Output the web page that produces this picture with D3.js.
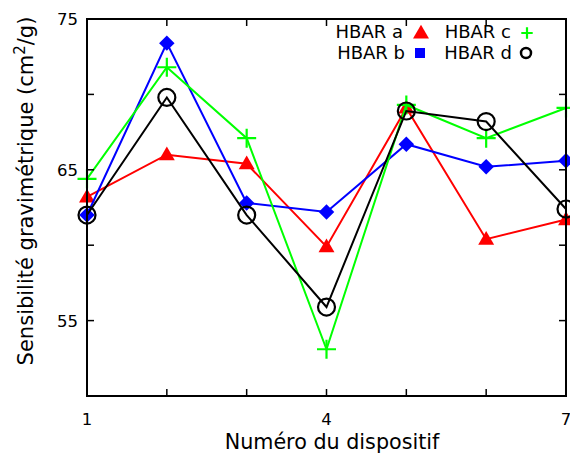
<!DOCTYPE html>
<html><head><meta charset="utf-8">
<script src="https://cdn.jsdelivr.net/npm/d3@7"></script>
<style>body{margin:0;background:#fff}svg{display:block;font-family:"DejaVu Sans",sans-serif}</style>
</head><body>
<svg id="c" width="570" height="453"></svg>
<script>
const devices = [1,2,3,4,5,6,7];
const hbarA = [63.2,66.0,65.4,59.9,69.1,60.4,61.7];
const hbarB = [62.0,73.4,62.8,62.2,66.7,65.2,65.6];
const hbarC = [64.4,71.8,67.1,53.1,69.3,67.1,69.1];
const hbarD = [62.0,69.8,62.0,55.9,68.9,68.2,62.4];
const seriesNames = ["HBAR a","HBAR b","HBAR c","HBAR d"];
const yTicks = [55,65,75];
const yMinor = [60,70];
const xTicks = [1,4,7];
const xMinor = [2,3,5,6];

const series = [
  {name:seriesNames[0], vals:hbarA, color:"#ff0000", marker:"tri"},
  {name:seriesNames[1], vals:hbarB, color:"#0000ff", marker:"diamond"},
  {name:seriesNames[2], vals:hbarC, color:"#00ff00", marker:"plus"},
  {name:seriesNames[3], vals:hbarD, color:"#000000", marker:"circle"}
];

const svg = d3.select("#c");
const L=87, R=566, T=19, B=396;
const x = d3.scaleLinear().domain([1,7]).range([L,R]);
const y = d3.scaleLinear().domain([50,75]).range([B,T]);

// tick labels
svg.append("g").selectAll("text").data(xTicks).join("text")
  .attr("x",d=>x(d)).attr("y",B+29).attr("text-anchor","middle")
  .attr("font-size",16.5).text(d=>d);
svg.append("g").selectAll("text").data(yTicks).join("text")
  .attr("x",L-9).attr("y",d=>y(d)+6).attr("text-anchor","end")
  .attr("font-size",16.5).text(d=>d);

// axis titles
svg.append("text").attr("x",332).attr("y",449).attr("text-anchor","middle")
  .attr("font-size",20.7).text("Numéro du dispositif");
const yt = svg.append("text").attr("transform",`translate(33,191) rotate(-90)`)
  .attr("text-anchor","middle").attr("font-size",21);
yt.append("tspan").text("Sensibilité gravimétrique (cm");
yt.append("tspan").attr("dy",-8).attr("font-size",15).text("2");
yt.append("tspan").attr("dy",8).text("/g)");

// series
const line = d3.line().x((d,i)=>x(devices[i])).y(d=>y(d));
function marker(g, type, color, cx, cy, s){
  s = s || 1;
  if(type==="tri"){
    g.append("path").attr("d",d3.symbol(d3.symbolTriangle,110*s*s)()).attr("transform",`translate(${cx},${cy+1})`).attr("fill",color);
  } else if(type==="diamond"){
    g.append("path").attr("d",d3.symbol(d3.symbolSquare,120)()).attr("transform",`translate(${cx},${cy}) rotate(45)`).attr("fill",color);
  } else if(type==="square"){
    g.append("path").attr("d",d3.symbol(d3.symbolSquare,100)()).attr("transform",`translate(${cx},${cy})`).attr("fill",color);
  } else if(type==="plus"){
    const a = 9.5*s;
    g.append("path").attr("d",`M${cx-a},${cy}H${cx+a}M${cx},${cy-a}V${cy+a}`).attr("stroke",color).attr("stroke-width",2.2).attr("fill","none");
  } else if(type==="circle"){
    g.append("circle").attr("cx",cx).attr("cy",cy).attr("r",8.5*s).attr("fill","none").attr("stroke",color).attr("stroke-width",2.2);
  }
}
series.forEach(s=>{
  const g = svg.append("g");
  g.append("path").attr("d",line(s.vals)).attr("fill","none").attr("stroke",s.color).attr("stroke-width",2);
  s.vals.forEach((v,i)=>marker(g,s.marker,s.color,x(devices[i]),y(v)));
});

// legend
const leg = [
  {s:series[0], tx:403, ty:38, mx:421, my:33, m:"tri"},
  {s:series[1], tx:405, ty:59, mx:420, my:53, m:"square"},
  {s:series[2], tx:511, ty:38, mx:527, my:33, m:"plus"},
  {s:series[3], tx:512, ty:59, mx:526, my:53, m:"circle"}
];
const lg = svg.append("g");
leg.forEach(l=>{
  lg.append("text").attr("x",l.tx).attr("y",l.ty).attr("text-anchor","end").attr("font-size",18).text(l.s.name);
  if(l.m==="circle"){
    lg.append("circle").attr("cx",l.mx).attr("cy",l.my).attr("r",5).attr("fill","none").attr("stroke",l.s.color).attr("stroke-width",2.5);
  } else if(l.m==="plus"){
    marker(lg,"plus",l.s.color,l.mx,l.my,0.6);
  } else marker(lg,l.m,l.s.color,l.mx,l.my);
});

// ticks
const tk = svg.append("g").attr("stroke","#000").attr("stroke-width",1.5);
[...xTicks,...xMinor].forEach(v=>{
  tk.append("line").attr("x1",x(v)).attr("x2",x(v)).attr("y1",B).attr("y2",B-7);
  tk.append("line").attr("x1",x(v)).attr("x2",x(v)).attr("y1",T).attr("y2",T+7);
});
[...yTicks,...yMinor].forEach(v=>{
  tk.append("line").attr("x1",L).attr("x2",L+7).attr("y1",y(v)).attr("y2",y(v));
  tk.append("line").attr("x1",R).attr("x2",R-7).attr("y1",y(v)).attr("y2",y(v));
});

// frame
svg.append("rect").attr("x",L).attr("y",T).attr("width",R-L).attr("height",B-T)
  .attr("fill","none").attr("stroke","#000").attr("stroke-width",2);
</script>
</body></html>
